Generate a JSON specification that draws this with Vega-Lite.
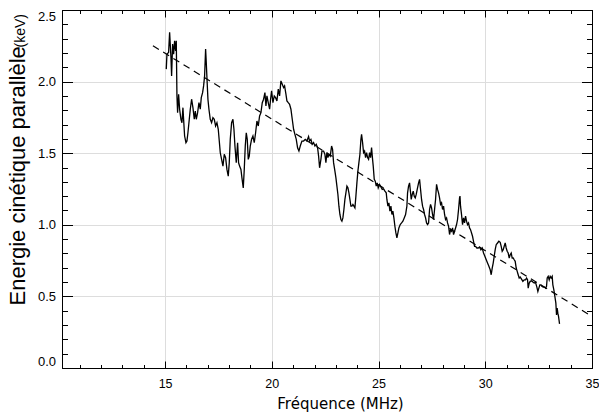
{
  "$schema": "https://vega.github.io/schema/vega-lite/v6.json",
  "width": 530,
  "height": 358,
  "autosize": {"type": "none"},
  "padding": {"left": 62, "top": 10, "right": 7, "bottom": 44},
  "data": {"values": [
      {"s":"f","freq":14.43,"e":2.25},{"s":"f","freq":35.0,"e":0.36},
      {"s":"m","freq":15.055,"e":2.087},{"s":"m","freq":15.087,"e":2.192},{"s":"m","freq":15.165,"e":2.204},{"s":"m","freq":15.212,"e":2.344},{"s":"m","freq":15.274,"e":2.169},{"s":"m","freq":15.305,"e":2.040},{"s":"m","freq":15.352,"e":2.262},{"s":"m","freq":15.399,"e":2.192},{"s":"m","freq":15.446,"e":2.285},{"s":"m","freq":15.493,"e":2.215},{"s":"m","freq":15.524,"e":2.285},{"s":"m","freq":15.555,"e":1.900},{"s":"m","freq":15.586,"e":1.783},{"s":"m","freq":15.633,"e":1.912},{"s":"m","freq":15.680,"e":1.807},{"s":"m","freq":15.742,"e":1.737},{"s":"m","freq":15.789,"e":1.713},{"s":"m","freq":15.836,"e":1.818},{"s":"m","freq":15.867,"e":1.737},{"s":"m","freq":15.914,"e":1.620},{"s":"m","freq":15.977,"e":1.573},{"s":"m","freq":16.023,"e":1.585},{"s":"m","freq":16.070,"e":1.643},{"s":"m","freq":16.133,"e":1.737},{"s":"m","freq":16.180,"e":1.807},{"s":"m","freq":16.242,"e":1.877},{"s":"m","freq":16.304,"e":1.818},{"s":"m","freq":16.367,"e":1.737},{"s":"m","freq":16.414,"e":1.795},{"s":"m","freq":16.461,"e":1.737},{"s":"m","freq":16.523,"e":1.783},{"s":"m","freq":16.586,"e":1.853},{"s":"m","freq":16.648,"e":1.807},{"s":"m","freq":16.695,"e":1.888},{"s":"m","freq":16.757,"e":1.923},{"s":"m","freq":16.804,"e":1.970},{"s":"m","freq":16.851,"e":2.040},{"s":"m","freq":16.898,"e":2.227},{"s":"m","freq":16.929,"e":2.134},{"s":"m","freq":16.960,"e":2.029},{"s":"m","freq":17.007,"e":1.877},{"s":"m","freq":17.054,"e":1.807},{"s":"m","freq":17.116,"e":1.737},{"s":"m","freq":17.179,"e":1.713},{"s":"m","freq":17.241,"e":1.748},{"s":"m","freq":17.304,"e":1.737},{"s":"m","freq":17.366,"e":1.690},{"s":"m","freq":17.429,"e":1.713},{"s":"m","freq":17.491,"e":1.667},{"s":"m","freq":17.538,"e":1.585},{"s":"m","freq":17.585,"e":1.503},{"s":"m","freq":17.647,"e":1.457},{"s":"m","freq":17.710,"e":1.410},{"s":"m","freq":17.772,"e":1.492},{"s":"m","freq":17.835,"e":1.468},{"s":"m","freq":17.897,"e":1.387},{"s":"m","freq":17.959,"e":1.340},{"s":"m","freq":18.006,"e":1.433},{"s":"m","freq":18.053,"e":1.597},{"s":"m","freq":18.116,"e":1.713},{"s":"m","freq":18.178,"e":1.737},{"s":"m","freq":18.225,"e":1.667},{"s":"m","freq":18.272,"e":1.550},{"s":"m","freq":18.334,"e":1.433},{"s":"m","freq":18.397,"e":1.573},{"s":"m","freq":18.443,"e":1.433},{"s":"m","freq":18.490,"e":1.410},{"s":"m","freq":18.553,"e":1.387},{"s":"m","freq":18.600,"e":1.328},{"s":"m","freq":18.662,"e":1.258},{"s":"m","freq":18.709,"e":1.387},{"s":"m","freq":18.756,"e":1.550},{"s":"m","freq":18.803,"e":1.643},{"s":"m","freq":18.849,"e":1.597},{"s":"m","freq":18.896,"e":1.457},{"s":"m","freq":18.943,"e":1.480},{"s":"m","freq":18.990,"e":1.550},{"s":"m","freq":19.052,"e":1.597},{"s":"m","freq":19.115,"e":1.620},{"s":"m","freq":19.177,"e":1.573},{"s":"m","freq":19.240,"e":1.643},{"s":"m","freq":19.302,"e":1.725},{"s":"m","freq":19.365,"e":1.690},{"s":"m","freq":19.427,"e":1.760},{"s":"m","freq":19.490,"e":1.783},{"s":"m","freq":19.552,"e":1.853},{"s":"m","freq":19.614,"e":1.877},{"s":"m","freq":19.677,"e":1.923},{"s":"m","freq":19.724,"e":1.830},{"s":"m","freq":19.771,"e":1.900},{"s":"m","freq":19.833,"e":1.853},{"s":"m","freq":19.896,"e":1.807},{"s":"m","freq":19.942,"e":1.877},{"s":"m","freq":19.989,"e":1.935},{"s":"m","freq":20.052,"e":1.853},{"s":"m","freq":20.114,"e":1.900},{"s":"m","freq":20.177,"e":1.888},{"s":"m","freq":20.239,"e":1.865},{"s":"m","freq":20.302,"e":1.947},{"s":"m","freq":20.364,"e":1.900},{"s":"m","freq":20.426,"e":2.005},{"s":"m","freq":20.489,"e":1.982},{"s":"m","freq":20.551,"e":1.958},{"s":"m","freq":20.598,"e":1.970},{"s":"m","freq":20.661,"e":1.912},{"s":"m","freq":20.707,"e":1.865},{"s":"m","freq":20.770,"e":1.853},{"s":"m","freq":20.832,"e":1.842},{"s":"m","freq":20.895,"e":1.807},{"s":"m","freq":20.957,"e":1.737},{"s":"m","freq":21.020,"e":1.667},{"s":"m","freq":21.082,"e":1.632},{"s":"m","freq":21.145,"e":1.597},{"s":"m","freq":21.207,"e":1.538},{"s":"m","freq":21.270,"e":1.515},{"s":"m","freq":21.332,"e":1.550},
      {"s":"m","freq":21.410,"e":1.585},{"s":"m","freq":21.488,"e":1.585},{"s":"m","freq":21.566,"e":1.597},{"s":"m","freq":21.644,"e":1.585},{"s":"m","freq":21.722,"e":1.616},{"s":"m","freq":21.769,"e":1.585},{"s":"m","freq":21.832,"e":1.597},{"s":"m","freq":21.894,"e":1.562},{"s":"m","freq":21.956,"e":1.574},{"s":"m","freq":22.019,"e":1.550},{"s":"m","freq":22.081,"e":1.562},{"s":"m","freq":22.144,"e":1.539},{"s":"m","freq":22.191,"e":1.480},{"s":"m","freq":22.238,"e":1.398},{"s":"m","freq":22.300,"e":1.457},{"s":"m","freq":22.347,"e":1.515},{"s":"m","freq":22.425,"e":1.515},{"s":"m","freq":22.487,"e":1.492},{"s":"m","freq":22.534,"e":1.434},{"s":"m","freq":22.581,"e":1.504},{"s":"m","freq":22.628,"e":1.469},{"s":"m","freq":22.675,"e":1.492},{"s":"m","freq":22.737,"e":1.480},{"s":"m","freq":22.800,"e":1.550},{"s":"m","freq":22.846,"e":1.527},{"s":"m","freq":22.893,"e":1.434},{"s":"m","freq":22.956,"e":1.375},{"s":"m","freq":23.003,"e":1.328},{"s":"m","freq":23.049,"e":1.270},{"s":"m","freq":23.096,"e":1.212},{"s":"m","freq":23.143,"e":1.130},{"s":"m","freq":23.190,"e":1.072},{"s":"m","freq":23.237,"e":1.037},{"s":"m","freq":23.284,"e":1.025},{"s":"m","freq":23.330,"e":1.048},{"s":"m","freq":23.377,"e":1.107},{"s":"m","freq":23.424,"e":1.177},{"s":"m","freq":23.471,"e":1.223},{"s":"m","freq":23.518,"e":1.270},{"s":"m","freq":23.565,"e":1.258},{"s":"m","freq":23.612,"e":1.223},{"s":"m","freq":23.658,"e":1.177},{"s":"m","freq":23.705,"e":1.130},{"s":"m","freq":23.752,"e":1.130},{"s":"m","freq":23.799,"e":1.142},{"s":"m","freq":23.846,"e":1.130},{"s":"m","freq":23.893,"e":1.118},{"s":"m","freq":23.939,"e":1.200},{"s":"m","freq":23.986,"e":1.293},{"s":"m","freq":24.033,"e":1.375},{"s":"m","freq":24.080,"e":1.434},{"s":"m","freq":24.127,"e":1.492},{"s":"m","freq":24.174,"e":1.597},{"s":"m","freq":24.205,"e":1.632},{"s":"m","freq":24.252,"e":1.574},{"s":"m","freq":24.298,"e":1.504},{"s":"m","freq":24.345,"e":1.515},{"s":"m","freq":24.392,"e":1.469},{"s":"m","freq":24.439,"e":1.504},{"s":"m","freq":24.486,"e":1.469},{"s":"m","freq":24.533,"e":1.457},{"s":"m","freq":24.580,"e":1.504},{"s":"m","freq":24.626,"e":1.469},{"s":"m","freq":24.673,"e":1.539},{"s":"m","freq":24.720,"e":1.457},{"s":"m","freq":24.751,"e":1.410},{"s":"m","freq":24.798,"e":1.317},{"s":"m","freq":24.845,"e":1.305},{"s":"m","freq":24.892,"e":1.270},{"s":"m","freq":24.939,"e":1.293},{"s":"m","freq":24.985,"e":1.258},{"s":"m","freq":25.048,"e":1.282},{"s":"m","freq":25.110,"e":1.265},{"s":"m","freq":25.173,"e":1.247},{"s":"m","freq":25.235,"e":1.251},{"s":"m","freq":25.298,"e":1.235},{"s":"m","freq":25.360,"e":1.223},{"s":"m","freq":25.391,"e":1.177},{"s":"m","freq":25.438,"e":1.130},{"s":"m","freq":25.485,"e":1.153},{"s":"m","freq":25.532,"e":1.095},{"s":"m","freq":25.579,"e":1.130},{"s":"m","freq":25.626,"e":1.072},{"s":"m","freq":25.672,"e":1.095},{"s":"m","freq":25.719,"e":1.048},{"s":"m","freq":25.766,"e":0.990},{"s":"m","freq":25.813,"e":0.943},{"s":"m","freq":25.860,"e":0.908},{"s":"m","freq":25.907,"e":0.943},{"s":"m","freq":25.953,"e":0.978},{"s":"m","freq":26.016,"e":1.002},{"s":"m","freq":26.078,"e":1.013},{"s":"m","freq":26.141,"e":1.025},{"s":"m","freq":26.203,"e":1.048},{"s":"m","freq":26.266,"e":1.072},{"s":"m","freq":26.328,"e":1.130},{"s":"m","freq":26.359,"e":1.223},{"s":"m","freq":26.406,"e":1.270},{"s":"m","freq":26.453,"e":1.293},{"s":"m","freq":26.484,"e":1.247},{"s":"m","freq":26.531,"e":1.177},{"s":"m","freq":26.578,"e":1.212},{"s":"m","freq":26.625,"e":1.235},{"s":"m","freq":26.672,"e":1.200},{"s":"m","freq":26.719,"e":1.188},{"s":"m","freq":26.765,"e":1.212},{"s":"m","freq":26.812,"e":1.247},{"s":"m","freq":26.875,"e":1.293},{"s":"m","freq":26.922,"e":1.317},{"s":"m","freq":26.968,"e":1.247},{"s":"m","freq":27.015,"e":1.177},{"s":"m","freq":27.062,"e":1.130},{"s":"m","freq":27.109,"e":1.107},{"s":"m","freq":27.156,"e":1.072},{"s":"m","freq":27.203,"e":1.048},{"s":"m","freq":27.249,"e":1.013},{"s":"m","freq":27.296,"e":1.002},{"s":"m","freq":27.343,"e":1.013},{"s":"m","freq":27.390,"e":1.107},{"s":"m","freq":27.437,"e":1.142},{"s":"m","freq":27.484,"e":1.118},{"s":"m","freq":27.530,"e":1.072},{"s":"m","freq":27.577,"e":1.037},{"s":"m","freq":27.624,"e":1.107},{"s":"m","freq":27.671,"e":1.177},{"s":"m","freq":27.718,"e":1.282},{"s":"m","freq":27.765,"e":1.247},{"s":"m","freq":27.811,"e":1.223},{"s":"m","freq":27.858,"e":1.188},{"s":"m","freq":27.905,"e":1.142},{"s":"m","freq":27.952,"e":1.153},{"s":"m","freq":27.999,"e":1.107},{"s":"m","freq":28.046,"e":1.130},{"s":"m","freq":28.093,"e":1.072},{"s":"m","freq":28.139,"e":1.037},{"s":"m","freq":28.186,"e":1.048},{"s":"m","freq":28.233,"e":1.013},{"s":"m","freq":28.280,"e":0.990},{"s":"m","freq":28.327,"e":0.932},{"s":"m","freq":28.374,"e":0.967},{"s":"m","freq":28.420,"e":0.955},{"s":"m","freq":28.467,"e":0.978},{"s":"m","freq":28.514,"e":0.932},{"s":"m","freq":28.561,"e":0.955},{"s":"m","freq":28.608,"e":0.978},{"s":"m","freq":28.655,"e":1.002},{"s":"m","freq":28.701,"e":1.037},{"s":"m","freq":28.748,"e":1.107},{"s":"m","freq":28.795,"e":1.188},{"s":"m","freq":28.815,"e":1.200},
      {"s":"m","freq":28.841,"e":1.130},{"s":"m","freq":28.888,"e":1.071},{"s":"m","freq":28.935,"e":1.001},{"s":"m","freq":28.982,"e":1.048},{"s":"m","freq":29.029,"e":1.013},{"s":"m","freq":29.076,"e":1.060},{"s":"m","freq":29.122,"e":1.025},{"s":"m","freq":29.169,"e":1.001},{"s":"m","freq":29.216,"e":1.013},{"s":"m","freq":29.263,"e":0.978},{"s":"m","freq":29.310,"e":0.966},{"s":"m","freq":29.357,"e":0.943},{"s":"m","freq":29.403,"e":0.920},{"s":"m","freq":29.450,"e":0.885},{"s":"m","freq":29.497,"e":0.850},{"s":"m","freq":29.544,"e":0.850},{"s":"m","freq":29.606,"e":0.838},{"s":"m","freq":29.669,"e":0.838},{"s":"m","freq":29.731,"e":0.845},{"s":"m","freq":29.794,"e":0.826},{"s":"m","freq":29.856,"e":0.838},{"s":"m","freq":29.919,"e":0.803},{"s":"m","freq":29.981,"e":0.780},{"s":"m","freq":30.044,"e":0.756},{"s":"m","freq":30.106,"e":0.733},{"s":"m","freq":30.169,"e":0.710},{"s":"m","freq":30.231,"e":0.686},{"s":"m","freq":30.278,"e":0.651},{"s":"m","freq":30.325,"e":0.698},{"s":"m","freq":30.371,"e":0.733},{"s":"m","freq":30.418,"e":0.780},{"s":"m","freq":30.465,"e":0.826},{"s":"m","freq":30.512,"e":0.861},{"s":"m","freq":30.575,"e":0.873},{"s":"m","freq":30.637,"e":0.885},{"s":"m","freq":30.699,"e":0.878},{"s":"m","freq":30.746,"e":0.850},{"s":"m","freq":30.793,"e":0.815},{"s":"m","freq":30.840,"e":0.826},{"s":"m","freq":30.887,"e":0.850},{"s":"m","freq":30.934,"e":0.873},{"s":"m","freq":30.980,"e":0.838},{"s":"m","freq":31.027,"e":0.815},{"s":"m","freq":31.074,"e":0.803},{"s":"m","freq":31.121,"e":0.768},{"s":"m","freq":31.168,"e":0.791},{"s":"m","freq":31.215,"e":0.803},{"s":"m","freq":31.261,"e":0.768},{"s":"m","freq":31.308,"e":0.768},{"s":"m","freq":31.355,"e":0.756},{"s":"m","freq":31.402,"e":0.745},{"s":"m","freq":31.449,"e":0.698},{"s":"m","freq":31.496,"e":0.675},{"s":"m","freq":31.542,"e":0.651},{"s":"m","freq":31.589,"e":0.628},{"s":"m","freq":31.636,"e":0.635},{"s":"m","freq":31.699,"e":0.621},{"s":"m","freq":31.761,"e":0.605},{"s":"m","freq":31.824,"e":0.616},{"s":"m","freq":31.886,"e":0.616},{"s":"m","freq":31.933,"e":0.628},{"s":"m","freq":31.980,"e":0.616},{"s":"m","freq":32.011,"e":0.558},{"s":"m","freq":32.058,"e":0.593},{"s":"m","freq":32.105,"e":0.605},{"s":"m","freq":32.167,"e":0.609},{"s":"m","freq":32.229,"e":0.600},{"s":"m","freq":32.292,"e":0.593},{"s":"m","freq":32.354,"e":0.598},{"s":"m","freq":32.417,"e":0.565},{"s":"m","freq":32.464,"e":0.535},{"s":"m","freq":32.511,"e":0.558},{"s":"m","freq":32.557,"e":0.581},{"s":"m","freq":32.604,"e":0.581},{"s":"m","freq":32.651,"e":0.570},{"s":"m","freq":32.713,"e":0.565},{"s":"m","freq":32.776,"e":0.565},{"s":"m","freq":32.823,"e":0.558},{"s":"m","freq":32.870,"e":0.570},{"s":"m","freq":32.901,"e":0.628},{"s":"m","freq":32.948,"e":0.640},{"s":"m","freq":32.995,"e":0.616},{"s":"m","freq":33.041,"e":0.640},{"s":"m","freq":33.088,"e":0.628},{"s":"m","freq":33.135,"e":0.640},{"s":"m","freq":33.166,"e":0.581},{"s":"m","freq":33.213,"e":0.546},{"s":"m","freq":33.260,"e":0.500},{"s":"m","freq":33.307,"e":0.453},{"s":"m","freq":33.338,"e":0.371},{"s":"m","freq":33.369,"e":0.418},{"s":"m","freq":33.400,"e":0.383},{"s":"m","freq":33.432,"e":0.360},{"s":"m","freq":33.479,"e":0.308}
  ]},
  "resolve": {"axis": {"x": "independent", "y": "independent"}},
  "layer": [
    {
      "transform": [{"filter": "datum.s === 'm'"}],
      "mark": {"type": "line", "color": "black", "strokeWidth": 1.3},
      "encoding": {
        "x": {"field": "freq", "type": "quantitative", "scale": {"domain": [10.17, 35], "nice": false, "zero": false},
          "axis": {"orient": "bottom", "values": [15, 20, 25, 30, 35], "ticks": true, "tickSize": -7, "tickColor": "#000000", "tickWidth": 1, "labels": false, "title": null, "domainColor": "#000000"}},
        "y": {"field": "e", "type": "quantitative", "scale": {"domain": [0, 2.5], "nice": false, "zero": false},
          "axis": {"orient": "left", "values": [0, 0.5, 1, 1.5, 2, 2.5], "ticks": true, "tickSize": -10.5, "tickColor": "#000000", "tickWidth": 1, "labels": false, "title": null, "domainColor": "#000000"}}
      }
    },
    {
      "transform": [{"filter": "datum.s === 'f'"}],
      "mark": {"type": "line", "color": "black", "strokeWidth": 1.2, "strokeDash": [7, 5]},
      "encoding": {
        "x": {"field": "freq", "type": "quantitative",
          "axis": {"orient": "top", "values": [15, 20, 25, 30, 35], "ticks": true, "tickSize": -7, "tickColor": "#000000", "tickWidth": 1, "labels": false, "title": null, "domainColor": "#000000"}},
        "y": {"field": "e", "type": "quantitative",
          "axis": {"orient": "right", "values": [0, 0.5, 1, 1.5, 2, 2.5], "ticks": true, "tickSize": -10.5, "tickColor": "#000000", "tickWidth": 1, "labels": false, "title": null, "domainColor": "#000000"}}
      }
    },
    {
      "transform": [{"filter": "datum.s === 'f'"}],
      "mark": {"type": "line", "strokeOpacity": 0},
      "encoding": {
        "x": {"field": "freq", "type": "quantitative",
          "axis": {"orient": "bottom", "values": [11,12,13,14,16,17,18,19,21,22,23,24,26,27,28,29,31,32,33,34], "ticks": true, "tickSize": -3.5, "tickColor": "#000000", "tickWidth": 1, "labels": false, "title": null, "domainColor": "#000000"}},
        "y": {"field": "e", "type": "quantitative",
          "axis": {"orient": "left", "values": [0.1,0.2,0.3,0.4,0.6,0.7,0.8,0.9,1.1,1.2,1.3,1.4,1.6,1.7,1.8,1.9,2.1,2.2,2.3,2.4], "ticks": true, "tickSize": -5.5, "tickColor": "#000000", "tickWidth": 1, "labels": false, "title": null, "domainColor": "#000000"}}
      }
    },
    {
      "transform": [{"filter": "datum.s === 'f'"}],
      "mark": {"type": "line", "strokeOpacity": 0},
      "encoding": {
        "x": {"field": "freq", "type": "quantitative",
          "axis": {"orient": "top", "values": [11,12,13,14,16,17,18,19,21,22,23,24,26,27,28,29,31,32,33,34], "ticks": true, "tickSize": -3.5, "tickColor": "#000000", "tickWidth": 1, "labels": false, "title": null, "domainColor": "#000000"}},
        "y": {"field": "e", "type": "quantitative",
          "axis": {"orient": "right", "values": [0.1,0.2,0.3,0.4,0.6,0.7,0.8,0.9,1.1,1.2,1.3,1.4,1.6,1.7,1.8,1.9,2.1,2.2,2.3,2.4], "ticks": true, "tickSize": -5.5, "tickColor": "#000000", "tickWidth": 1, "labels": false, "title": null, "domainColor": "#000000"}}
      }
    },
    {
      "transform": [{"filter": "datum.s === 'f'"}],
      "mark": {"type": "line", "strokeOpacity": 0},
      "encoding": {
        "x": {"field": "freq", "type": "quantitative",
          "axis": {
            "orient": "bottom", "values": [15, 20, 25, 30, 35], "ticks": false, "domain": false, "grid": false,
            "labelPadding": 9, "labelColor": "black", "labelFont": "Liberation Sans", "labelFontSize": 12.5, "labelFlush": false,
            "title": "Fréquence (MHz)", "titleColor": "black", "titleFont": "DejaVu Sans", "titleFontSize": 15, "titleFontWeight": "normal",
            "titleAlign": "center", "titleBaseline": "alphabetic", "titleX": 278, "titleY": 40
          }
        },
        "y": {"field": "e", "type": "quantitative",
          "axis": {
            "orient": "left", "values": [0, 0.5, 1, 1.5, 2, 2.5], "format": ".1f", "ticks": false, "domain": false, "grid": false,
            "labelPadding": 6.5, "labelColor": "black", "labelFont": "Liberation Sans", "labelFontSize": 13, "labelFlush": true,
            "title": "Energie cinétique parallèle", "titleColor": "black", "titleFont": "Liberation Sans", "titleFontSize": 22, "titleFontWeight": "normal",
            "titleAngle": -90, "titleAlign": "left", "titleBaseline": "alphabetic", "titleX": -38, "titleY": 295
          }
        }
      }
    },
    {
      "transform": [{"filter": "datum.s === 'f'"}],
      "mark": {"type": "line", "strokeOpacity": 0},
      "encoding": {
        "x": {"field": "freq", "type": "quantitative",
          "axis": {"orient": "top", "ticks": false, "domain": false, "grid": false, "labels": false, "title": null}},
        "y": {"field": "e", "type": "quantitative",
          "axis": {
            "orient": "left", "ticks": false, "domain": false, "grid": false, "labels": false,
            "title": "(keV)", "titleColor": "black", "titleFont": "Liberation Sans", "titleFontSize": 14, "titleFontWeight": "normal",
            "titleAngle": -90, "titleAlign": "left", "titleBaseline": "alphabetic", "titleX": -38, "titleY": 37
          }
        }
      }
    }
  ]
}
